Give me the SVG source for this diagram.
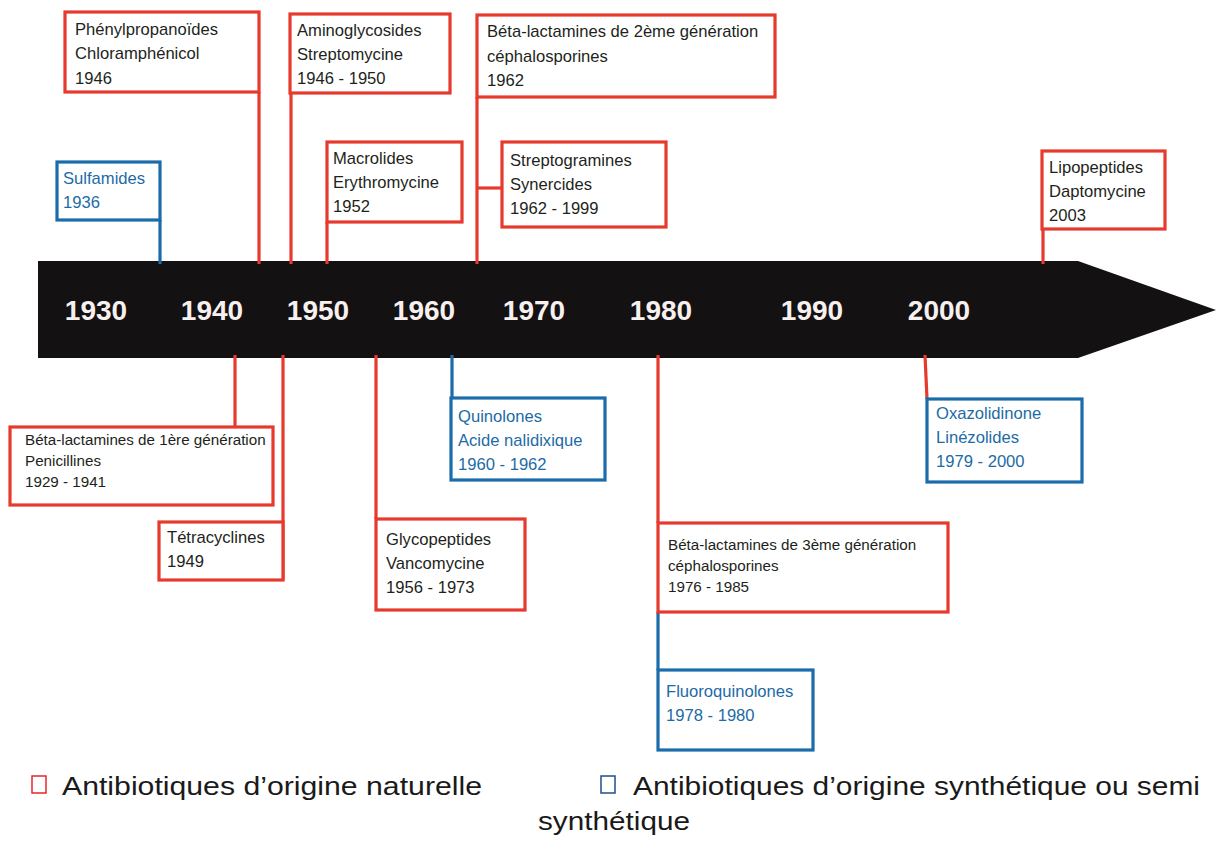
<svg xmlns="http://www.w3.org/2000/svg" width="1216" height="845" viewBox="0 0 1216 845">
<style>
.bg{fill:#ffffff}
.rbox{fill:#ffffff;stroke:#e63a2e;stroke-width:3.2}
.bbox{fill:#ffffff;stroke:#1b6cab;stroke-width:3.2}
.rl{stroke:#e63a2e;stroke-width:3.2;fill:none}
.bl{stroke:#1b6cab;stroke-width:3.2;fill:none}
.t{font-family:"Liberation Sans",Arial,sans-serif;font-size:16.6px;fill:#231f20}
.ts{font-family:"Liberation Sans",Arial,sans-serif;font-size:15.2px;fill:#231f20}
.tb{font-family:"Liberation Sans",Arial,sans-serif;font-size:16.6px;fill:#1d6ba6}
.yr{font-family:"Liberation Sans",Arial,sans-serif;font-size:28px;font-weight:bold;fill:#f7f0ee;text-anchor:middle}
.lg{font-family:"Liberation Sans",Arial,sans-serif;font-size:26px;fill:#1a1a1a}
</style>
<rect class="bg" x="0" y="0" width="1216" height="845"/>

<g id="timeline">
<polygon points="38,261 1078,261 1216,310 1078,358 38,358" fill="#141112"/>
<text class="yr" x="96" y="320">1930</text>
<text class="yr" x="212" y="320">1940</text>
<text class="yr" x="318" y="320">1950</text>
<text class="yr" x="424" y="320">1960</text>
<text class="yr" x="534" y="320">1970</text>
<text class="yr" x="661" y="320">1980</text>
<text class="yr" x="812" y="320">1990</text>
<text class="yr" x="939" y="320">2000</text>
</g>

<g id="connectors">
<line class="bl" x1="160" y1="220" x2="160" y2="264"/>
<line class="rl" x1="259" y1="92" x2="259" y2="264"/>
<line class="rl" x1="291" y1="93" x2="291" y2="264"/>
<line class="rl" x1="327" y1="222" x2="327" y2="264"/>
<line class="rl" x1="477" y1="97" x2="477" y2="264"/>
<line class="rl" x1="477" y1="188" x2="502" y2="188"/>
<line class="rl" x1="1043" y1="229" x2="1043" y2="264"/>
<line class="rl" x1="235" y1="355" x2="235" y2="427"/>
<line class="rl" x1="283" y1="355" x2="283" y2="580"/>
<line class="rl" x1="376" y1="355" x2="376" y2="519"/>
<line class="bl" x1="452" y1="355" x2="452" y2="398"/>
<line class="rl" x1="658" y1="355" x2="658" y2="523"/>
<line class="bl" x1="658" y1="612" x2="658" y2="670"/>
<line class="rl" x1="925" y1="355" x2="927" y2="399"/>
</g>

<g id="n-sulfamides">
<rect class="bbox" x="57" y="162" width="103" height="58"/>
<text class="tb" x="63" y="184">Sulfamides</text>
<text class="tb" x="63" y="208">1936</text>
</g>

<g id="n-phenylpropanoides">
<rect class="rbox" x="65" y="12" width="194" height="80"/>
<text class="t" x="75" y="35">Phénylpropanoïdes</text>
<text class="t" x="75" y="59">Chloramphénicol</text>
<text class="t" x="75" y="84">1946</text>
</g>

<g id="n-aminoglycosides">
<rect class="rbox" x="290" y="14" width="160" height="79"/>
<text class="t" x="297" y="36">Aminoglycosides</text>
<text class="t" x="297" y="60">Streptomycine</text>
<text class="t" x="297" y="84">1946 - 1950</text>
</g>

<g id="n-macrolides">
<rect class="rbox" x="327" y="142" width="135" height="80"/>
<text class="t" x="333" y="164">Macrolides</text>
<text class="t" x="333" y="188">Erythromycine</text>
<text class="t" x="333" y="212">1952</text>
</g>

<g id="n-betalactamines2">
<rect class="rbox" x="477" y="15" width="298" height="82"/>
<text class="t" x="487" y="37">Béta-lactamines de 2ème génération</text>
<text class="t" x="487" y="62">céphalosporines</text>
<text class="t" x="487" y="86">1962</text>
</g>

<g id="n-streptogramines">
<rect class="rbox" x="502" y="142" width="164" height="85"/>
<text class="t" x="510" y="166">Streptogramines</text>
<text class="t" x="510" y="190">Synercides</text>
<text class="t" x="510" y="214">1962 - 1999</text>
</g>

<g id="n-lipopeptides">
<rect class="rbox" x="1042" y="151" width="123" height="78"/>
<text class="t" x="1049" y="173">Lipopeptides</text>
<text class="t" x="1049" y="197">Daptomycine</text>
<text class="t" x="1049" y="221">2003</text>
</g>

<g id="n-betalactamines1">
<rect class="rbox" x="10" y="427" width="263" height="78"/>
<text class="ts" x="25" y="445">Béta-lactamines de 1ère génération</text>
<text class="ts" x="25" y="466">Penicillines</text>
<text class="ts" x="25" y="487">1929 - 1941</text>
</g>

<g id="n-tetracyclines">
<rect class="rbox" x="159" y="522" width="124" height="58"/>
<text class="t" x="167" y="543">Tétracyclines</text>
<text class="t" x="167" y="567">1949</text>
</g>

<g id="n-glycopeptides">
<rect class="rbox" x="376" y="519" width="149" height="91"/>
<text class="t" x="386" y="545">Glycopeptides</text>
<text class="t" x="386" y="569">Vancomycine</text>
<text class="t" x="386" y="593">1956 - 1973</text>
</g>

<g id="n-quinolones">
<rect class="bbox" x="451" y="398" width="154" height="82"/>
<text class="tb" x="458" y="422">Quinolones</text>
<text class="tb" x="458" y="446">Acide nalidixique</text>
<text class="tb" x="458" y="470">1960 - 1962</text>
</g>

<g id="n-betalactamines3">
<rect class="rbox" x="658" y="523" width="290" height="89"/>
<text class="ts" x="668" y="550">Béta-lactamines de 3ème génération</text>
<text class="ts" x="668" y="571">céphalosporines</text>
<text class="ts" x="668" y="592">1976 - 1985</text>
</g>

<g id="n-fluoroquinolones">
<rect class="bbox" x="658" y="670" width="155" height="80"/>
<text class="tb" x="666" y="697">Fluoroquinolones</text>
<text class="tb" x="666" y="721">1978 - 1980</text>
</g>

<g id="n-oxazolidinone">
<rect class="bbox" x="927" y="399" width="155" height="83"/>
<text class="tb" x="936" y="419">Oxazolidinone</text>
<text class="tb" x="936" y="443">Linézolides</text>
<text class="tb" x="936" y="467">1979 - 2000</text>
</g>

<g id="legend">
<rect x="32" y="776" width="14" height="17" fill="none" stroke="#e8262b" stroke-width="1.5"/>
<text class="lg" x="62" y="795" textLength="420" lengthAdjust="spacingAndGlyphs">Antibiotiques d’origine naturelle</text>
<rect x="601" y="776" width="14" height="17" fill="none" stroke="#1f4f8c" stroke-width="1.5"/>
<text class="lg" x="633" y="795" textLength="567" lengthAdjust="spacingAndGlyphs">Antibiotiques d’origine synthétique ou semi</text>
<text class="lg" x="538" y="830" textLength="152" lengthAdjust="spacingAndGlyphs">synthétique</text>
</g>
</svg>
